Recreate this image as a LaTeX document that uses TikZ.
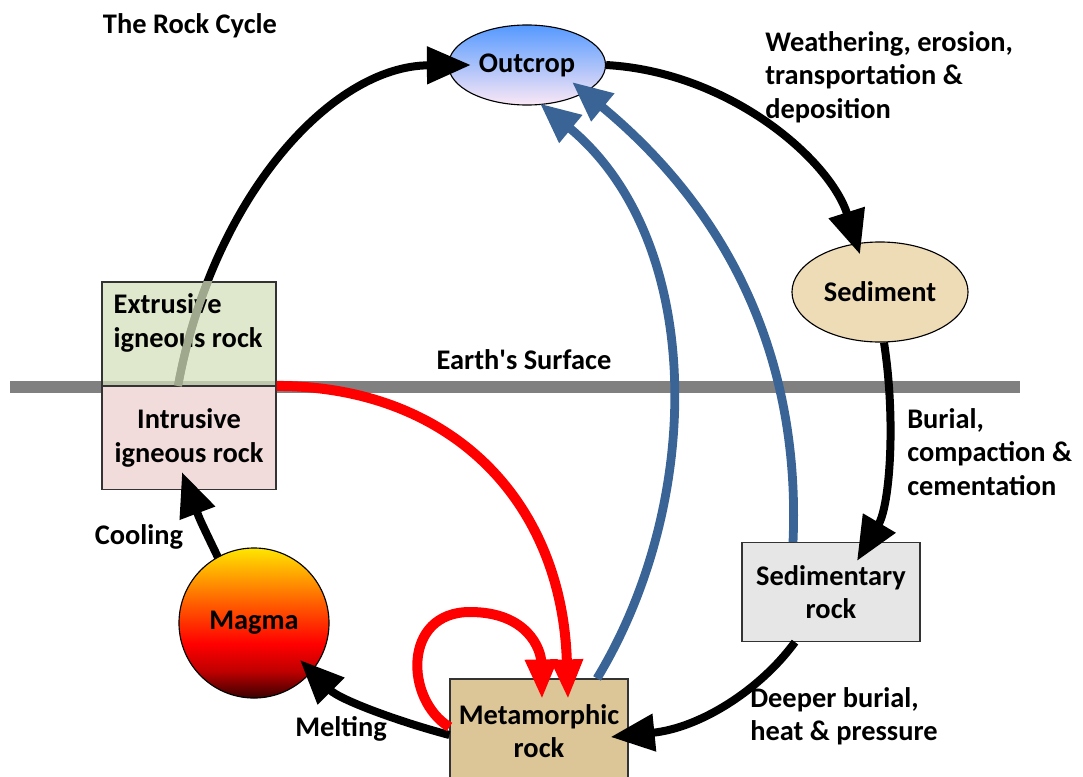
\documentclass[tikz,border=0pt]{standalone}
\usepackage{fontspec}
\setmainfont{Carlito}
\usetikzlibrary{calc,shapes.geometric,arrows.meta}

\definecolor{surfgray}{HTML}{808080}
\definecolor{cycleblue}{HTML}{3A6496}
\definecolor{sedfill}{HTML}{EEDCB6}
\definecolor{sedrockfill}{HTML}{E6E6E6}
\definecolor{metafill}{HTML}{DCC597}
\definecolor{intrfill}{HTML}{F2DCDB}
\definecolor{extrfill}{HTML}{D4E0BB}
\definecolor{outtop}{HTML}{5599FF}
\definecolor{outbot}{HTML}{FBE8F5}
\definecolor{magtop}{HTML}{FFE600}
\definecolor{magmid}{HTML}{FF5A00}
\definecolor{magred}{HTML}{FF0000}
\definecolor{magbot}{HTML}{3A0000}

\pgfdeclareverticalshading{magmashade}{100bp}{color(0bp)=(magbot); color(25bp)=(magbot);
  color(34bp)=(magred!75!black); color(43bp)=(magred); color(56bp)=(magmid);
  color(75bp)=(magtop); color(100bp)=(magtop)}

\tikzset{
  every node/.style={font=\fontsize{20.2}{23.8}\selectfont\bfseries},
  rockbox/.style={draw=black!80, line width=0.8pt, rectangle, align=center},
  rockoval/.style={draw=black, line width=0.8pt, ellipse, inner sep=0pt},
  label/.style={align=left, inner sep=0pt},
  blackarrow/.style={line width=0.2cm, -{Triangle[length=1.1cm,width=0.9cm]}},
  redarrow/.style={line width=0.25cm, red, -{Triangle[length=1cm,width=0.75cm]}},
  bluearrow/.style={line width=0.22cm, cycleblue, -{Triangle[length=1cm,width=0.85cm]}}
}

\begin{document}
\begin{tikzpicture}[x=0.025cm, y=-0.025cm]
    \useasboundingbox (0,0) rectangle (1083,776);
    \clip (0,0) rectangle (1083,776);

    % earth's surface
    \coordinate (surfL) at (10,387);
    \coordinate (surfR) at (1020,387);
    \draw [surfgray, line width=0.3cm] (surfL) -- (surfR);
    \node (surface) at (524,360) {Earth\textquotesingle s Surface};

    % rocks
    \node [rockoval, minimum width=3.925cm, minimum height=2cm, top color=outtop, bottom color=outbot] (outcrop) at (527,65) {Outcrop};
    \node [rockoval, minimum width=4.4cm, minimum height=2.5cm, fill=sedfill] (sediment) at (880,292) {Sediment};
    \node [rockbox, minimum width=4.45cm, minimum height=2.475cm, fill=sedrockfill] (sedrock) at (831,592) {Sedimentary\\rock};
    \node [rockbox, minimum width=4.45cm, minimum height=2.6cm, fill=metafill] (meta) at (539,731) {Metamorphic\\rock};
    \node [circle, draw=black, line width=0.8pt, minimum size=3.75cm, shading=magmashade] (magma) at (254,623) {Magma};
    \node [rockbox, minimum width=4.35cm, minimum height=2.575cm, fill=intrfill] (intr) at (189,438) {Intrusive\\igneous rock};

    % extrusive box over the rising arc
    \coordinate (arcstart) at (178,386);
    \draw [blackarrow] (arcstart) .. controls (212,200) and (330,66) .. ($(outcrop.west)+(23,0)$);
    \node [rockbox, minimum width=4.35cm, minimum height=2.6cm, fill=extrfill, fill opacity=0.75] (extr) at (189,334) {};
    \node [label, anchor=north west] (extrtext) at ($(extr.north west)+(12,12)$) {Extrusive\\igneous rock};
    \begin{scope}
        \clip (extr.south west) rectangle (extr.north east);
        \draw [extrfill!75!black, line width=0.2cm] (arcstart) .. controls (212,200) and (330,66) .. ($(outcrop.west)+(23,0)$);
    \end{scope}

    % black cycle
    \draw [blackarrow] (outcrop.east) .. controls (730,72) and (830,160) .. ($(sediment.north)+(-20,13)$);
    \draw [blackarrow] ($(sediment.south)+(4,0)$) .. controls (896,420) and (890,505) .. ($(sedrock.north)+(26,19)$);
    \draw [blackarrow] ($(sedrock.south)+(-36,0)$) .. controls (760,690) and (700,728) .. ($(meta.east)+(-18,6)$);
    \draw [blackarrow] ($(meta.west)+(0,4)$) .. controls (400,722) and (340,700) .. ($(magma.center)+(46,37)$);
    \draw [blackarrow] ($(magma.north)+(-36,10)$) .. controls (200,520) .. ($(intr.south)+(-7,-18)$);

    % red arrows
    \draw [redarrow] (intr.north east) .. controls (450,386) and (562,500) .. ($(meta.north)+(29,21)$);
    \draw [redarrow] ($(meta.west)+(0,-4)$) .. controls (405,700) and (402,612) .. (470,612) .. controls (528,612) and (541,650) .. ($(meta.north)+(3,21)$);

    % blue arrows
    \draw [bluearrow] ($(meta.north)+(58,0)$) .. controls (705,500) and (705,240) .. ($(outcrop.south)+(13,-2)$);
    \draw [bluearrow] ($(sedrock.north)+(-38,0)$) .. controls (800,380) and (745,225) .. ($(outcrop.center)+(45,17)$);

    % labels
    \node (title) at (190,26) {The Rock Cycle};
    \node [label, anchor=west] (weather) at (765,77) {Weathering, erosion,\\transportation \&\\deposition};
    \node [label, anchor=west] (burial) at (907,452) {Burial,\\compaction \&\\cementation};
    \node [label, anchor=west] (deeper) at (750,716) {Deeper burial,\\heat \& pressure};
    \node (cooling) at (139,537) {Cooling};
    \node (melting) at (341,729) {Melting};
\end{tikzpicture}
\end{document}
